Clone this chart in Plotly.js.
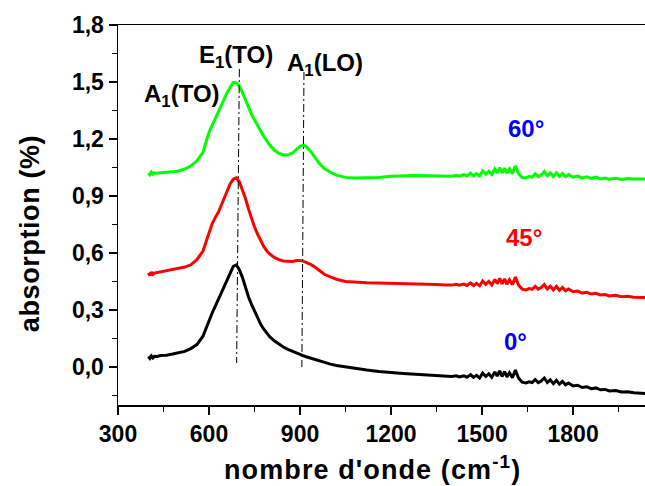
<!DOCTYPE html>
<html>
<head>
<meta charset="utf-8">
<script src="https://cdn.plot.ly/plotly-3.0.1.min.js"></script>
<style>
html,body{margin:0;padding:0;background:#fff;}
#chart{width:645px;height:486px;}
g.annotation[data-index="6"] text{letter-spacing:1.1px;}
g.annotation[data-index="7"] text{letter-spacing:0.6px;}
</style>
</head>
<body>
<div id="chart"></div>
<script>
// wavenumber (cm-1)
var wavenumber = [400,405,410,415,420,430,440,460,480,500,520,540,560,580,590,600,610,620,630,640,650,660,670,680,690,700,710,720,730,740,750,760,770,780,790,800,815,830,845,860,875,890,900,910,920,935,950,965,980,1000,1020,1050,1080,1120,1160,1200,1240,1280,1320,1350,
1380,1400,1415,1425,1440,1450,1462,1472,1482,1492,1502,1512,1522,1532,1542,1550,1558,1566,1574,1582,1590,1600,1610,1620,1632,1645,1655,1665,1675,1685,1695,1705,1715,1725,1735,1745,1755,1765,1775,1785,1800,1815,1830,1845,1860,1875,1890,1905,1920,1940,1960,1980,2000,2040];

// 0° (black)
var abs0 = [0.055,0.045,0.058,0.048,0.056,0.055,0.060,0.062,0.068,0.074,0.082,0.097,0.118,0.162,0.205,0.250,0.283,0.318,0.353,0.390,0.425,0.462,0.500,0.530,0.537,0.512,0.472,0.420,0.370,0.330,0.292,0.257,0.226,0.200,0.180,0.160,0.138,0.120,0.105,0.093,0.082,0.072,0.066,0.060,0.054,0.046,0.038,0.031,0.024,0.015,0.008,0.000,-0.008,-0.016,-0.024,-0.030,-0.034,-0.038,-0.042,-0.045,
-0.048,-0.050,-0.046,-0.052,-0.046,-0.054,-0.040,-0.055,-0.044,-0.058,-0.032,-0.050,-0.036,-0.054,-0.026,-0.048,-0.020,-0.050,-0.024,-0.052,-0.030,-0.056,-0.016,-0.058,-0.080,-0.084,-0.078,-0.082,-0.066,-0.082,-0.074,-0.058,-0.082,-0.068,-0.088,-0.070,-0.090,-0.076,-0.094,-0.084,-0.100,-0.096,-0.108,-0.104,-0.114,-0.110,-0.120,-0.118,-0.126,-0.124,-0.132,-0.130,-0.136,-0.140];

// 45° (red)
var abs45 = [0.495,0.482,0.500,0.488,0.494,0.497,0.500,0.505,0.511,0.518,0.526,0.538,0.565,0.610,0.660,0.710,0.752,0.785,0.812,0.850,0.890,0.930,0.965,0.988,0.995,0.975,0.935,0.888,0.832,0.782,0.737,0.700,0.665,0.635,0.612,0.595,0.577,0.565,0.558,0.555,0.555,0.560,0.561,0.557,0.550,0.540,0.525,0.505,0.488,0.474,0.462,0.450,0.446,0.443,0.442,0.441,0.440,0.438,0.436,0.434,
0.432,0.431,0.435,0.430,0.436,0.429,0.443,0.429,0.440,0.427,0.453,0.435,0.450,0.432,0.461,0.439,0.467,0.438,0.464,0.436,0.459,0.433,0.473,0.432,0.410,0.406,0.413,0.409,0.425,0.410,0.418,0.434,0.411,0.425,0.406,0.424,0.404,0.419,0.401,0.411,0.396,0.400,0.389,0.393,0.384,0.388,0.379,0.381,0.374,0.377,0.370,0.372,0.367,0.365];

// 60° (green)
var abs60 = [1.020,1.012,1.026,1.015,1.022,1.020,1.022,1.024,1.027,1.032,1.042,1.058,1.085,1.130,1.180,1.235,1.270,1.305,1.345,1.380,1.415,1.445,1.472,1.498,1.495,1.478,1.445,1.405,1.370,1.330,1.300,1.275,1.243,1.215,1.190,1.168,1.142,1.124,1.116,1.117,1.126,1.150,1.162,1.168,1.160,1.135,1.100,1.068,1.045,1.025,1.010,0.998,0.995,0.996,0.998,1.004,1.006,1.008,1.006,1.004,
1.004,1.004,1.009,1.004,1.012,1.005,1.020,1.006,1.018,1.005,1.032,1.015,1.030,1.013,1.042,1.021,1.050,1.021,1.047,1.020,1.043,1.018,1.059,1.018,0.997,0.995,1.002,0.999,1.017,1.002,1.011,1.029,1.006,1.021,1.002,1.022,1.003,1.018,1.002,1.013,0.999,1.005,0.995,1.001,0.993,0.999,0.990,0.994,0.988,0.993,0.987,0.992,0.989,0.990];

// marker lines (dash-dot)
var lineE1TO_x = [700, 691], lineE1TO_y = [1.568, 0.021];
var lineA1LO_x = [913, 906], lineA1LO_y = [1.553, 0.000];

// labels
var peakLabels = ["E<sub>1</sub>(TO)", "A<sub>1</sub>(LO)", "A<sub>1</sub>(TO)"];
var peakLabelX = [689, 983, 512];
var peakLabelY = [1.632, 1.590, 1.428];
var angleLabels = ["60°", "45°", "0°"];
var angleLabelX = [1645, 1638, 1609];
var angleLabelY = [1.253, 0.684, 0.132];
var angleColors = ["#0000ff", "#ff0000", "#0000ff"];

var FONT = "Liberation Sans, Arial, sans-serif";

var traces = [
  {x: wavenumber, y: abs0, mode: "lines", line: {color: "#000000", width: 3}},
  {x: wavenumber, y: abs45, mode: "lines", line: {color: "#ff0000", width: 3}},
  {x: wavenumber, y: abs60, mode: "lines", line: {color: "#00ff00", width: 3}},
  {x: lineE1TO_x, y: lineE1TO_y, mode: "lines", line: {color: "#000000", width: 1, dash: "8px,3px,2px,3px"}},
  {x: lineA1LO_x, y: lineA1LO_y, mode: "lines", line: {color: "#000000", width: 1, dash: "8px,3px,2px,3px"}}
];

var annotations = [];
for (var i = 0; i < peakLabels.length; i++) {
  annotations.push({x: peakLabelX[i], y: peakLabelY[i], xref: "x", yref: "y", text: peakLabels[i], showarrow: false,
    font: {family: FONT, size: 24, color: "#000", weight: "bold"}, xanchor: "center", yanchor: "middle"});
}
for (var j = 0; j < angleLabels.length; j++) {
  annotations.push({x: angleLabelX[j], y: angleLabelY[j], xref: "x", yref: "y", text: angleLabels[j], showarrow: false,
    font: {family: FONT, size: 24, color: angleColors[j], weight: "bold"}, xanchor: "center", yanchor: "middle"});
}
annotations.push({x: 0.482, y: -0.166, xref: "paper", yref: "paper", text: "nombre d'onde (cm<sup>-1</sup>)", showarrow: false,
  font: {family: FONT, size: 27, color: "#000", weight: "bold"}, xanchor: "center", yanchor: "middle"});
annotations.push({x: -0.167, y: 0.4526, xref: "paper", yref: "paper", text: "absorption (%)", textangle: -90, showarrow: false,
  font: {family: FONT, size: 27, color: "#000", weight: "bold"}, xanchor: "center", yanchor: "middle"});

var layout = {
  width: 645, height: 486,
  margin: {l: 118, r: 0, t: 25, b: 81, pad: 0},
  paper_bgcolor: "#ffffff", plot_bgcolor: "#ffffff",
  showlegend: false, hovermode: false,
  separators: ",.",
  xaxis: {
    range: [300, 2037], tick0: 300, dtick: 300, tickmode: "linear",
    showline: true, linecolor: "#000", linewidth: 1.5, mirror: true,
    ticks: "outside", ticklen: 8, tickwidth: 1.5, tickcolor: "#000",
    minor: {dtick: 150, tick0: 300, ticks: "outside", ticklen: 5, tickwidth: 1.5, tickcolor: "#000"},
    showgrid: false, zeroline: false,
    tickfont: {family: FONT, size: 23, color: "#000", weight: "bold"}
  },
  yaxis: {
    range: [-0.2, 1.8], tick0: 0, dtick: 0.3, tickmode: "linear", tickformat: ".1f",
    showline: true, linecolor: "#000", linewidth: 1.5, mirror: false,
    ticks: "outside", ticklen: 8, tickwidth: 1.5, tickcolor: "#000",
    minor: {dtick: 0.15, tick0: 0, ticks: "outside", ticklen: 5, tickwidth: 1.5, tickcolor: "#000"},
    showgrid: false, zeroline: false,
    tickfont: {family: FONT, size: 23, color: "#000", weight: "bold"}
  },
  annotations: annotations
};

Plotly.newPlot("chart", traces, layout, {staticPlot: true, displayModeBar: false});
</script>
</body>
</html>
